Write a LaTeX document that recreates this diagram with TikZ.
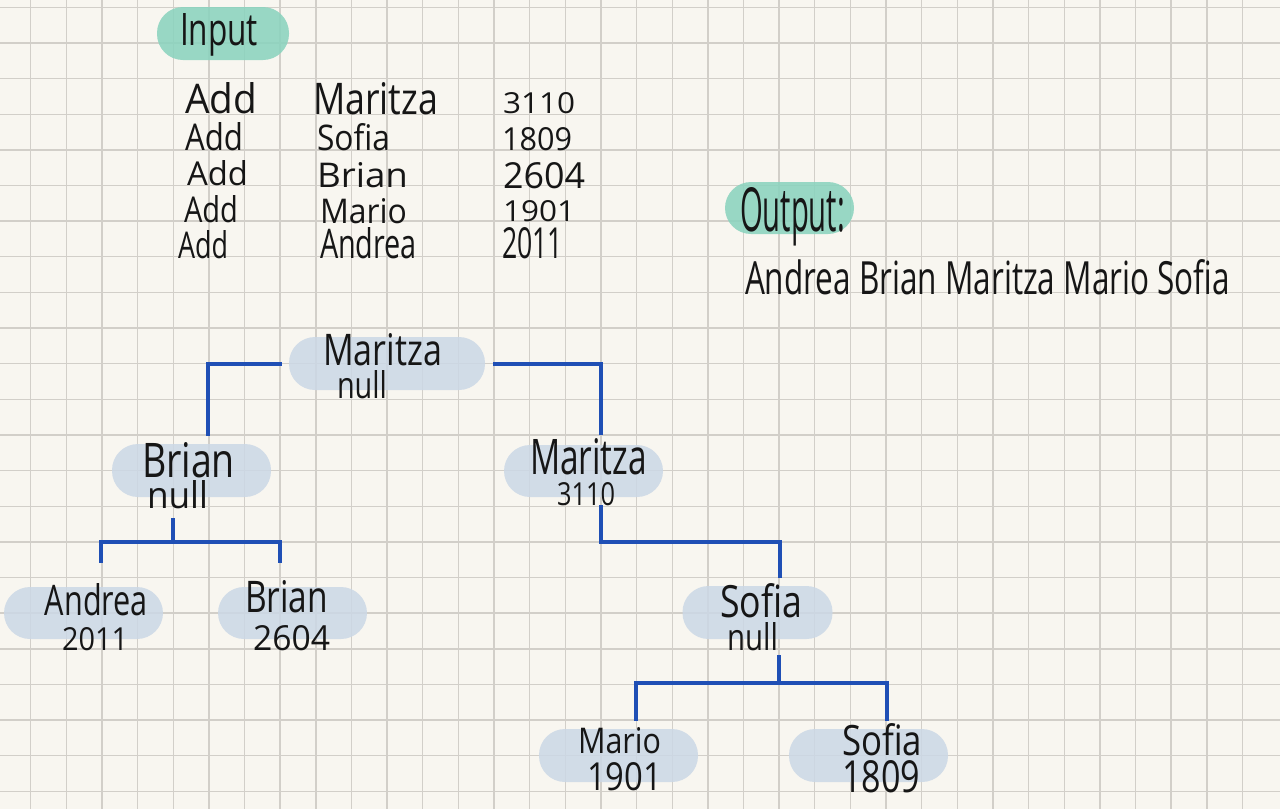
\documentclass[tikz,border=0pt]{standalone}
\usepackage{fontspec}
\setmainfont{Open Sans}
\usepackage{graphicx}
\definecolor{paper}{HTML}{F8F6F0}
\definecolor{gridc}{HTML}{D2CFC9}
\definecolor{tealpill}{HTML}{8BD3BE}
\definecolor{treepill}{HTML}{CBD8E6}
\definecolor{linkblue}{HTML}{1F4FB5}
\definecolor{ink}{HTML}{161616}
\newcommand\hwtxt[3]{\resizebox{#1pt}{#2pt}{#3}}
\tikzset{
  gridline/.style={draw=gridc, line width=1.4pt},
  tealbox/.style={rectangle, rounded corners=26pt, fill=tealpill, fill opacity=0.88, inner sep=0pt, minimum width=#1, minimum height=53pt},
  treebox/.style={rectangle, rounded corners=26pt, fill=treepill, fill opacity=0.85, inner sep=0pt, minimum width=#1, minimum height=53pt},
  hw/.style={anchor=base, inner sep=0pt, outer sep=0pt, text=ink, font=\fontsize{40}{40}\selectfont},
  conn/.style={draw=linkblue, line width=4pt},
}
\begin{document}
\begin{tikzpicture}[x=1pt, y=-1pt]
\useasboundingbox (0,0) rectangle (1280,809);
\fill[paper] (0,0) rectangle (1280,809);
% grid
\foreach \i in {0,...,34} \draw[gridline] ({30.7+\i*35.64},0) -- ({30.7+\i*35.64},809);
\foreach \j in {0,...,22} \draw[gridline] (0,{7.3+\j*35.64}) -- (1280,{7.3+\j*35.64});

% header pills
\node[tealbox=132pt] (inpill) at (223,33.5) {};
\node[tealbox=129pt, minimum height=52pt] (outpill) at (789.5,208) {};

% tree pills
\node[treebox=196pt] (root) at (387,363.5) {};
\node[treebox=159pt] (brianN) at (191.5,470.5) {};
\node[treebox=159pt, minimum height=52pt] (m3110) at (583.5,471) {};
\node[treebox=150pt] (sofiaN) at (757.5,612.5) {};
\node[treebox=159pt, minimum height=52pt] (andrea) at (83.5,613) {};
\node[treebox=149pt, minimum height=52pt] (brianL) at (292.5,613) {};
\node[treebox=159pt] (mario) at (618.5,755.5) {};
\node[treebox=159pt] (sofiaL) at (868.5,755.5) {};

% connectors
\draw[conn] ([xshift=-7pt]root.west) -| ([xshift=16.5pt,yshift=8pt]brianN.north);
\draw[conn] ([xshift=8pt]root.east) -| ([xshift=17.5pt,yshift=10pt]m3110.north);
\draw[conn] ([xshift=17.5pt,yshift=-8pt]m3110.south) -- ++(0,37) -| ([xshift=22.5pt,yshift=8pt]sofiaN.north);
\draw[conn] ([xshift=-18.5pt,yshift=-21pt]brianN.south) -- ([xshift=-18.5pt,yshift=-45pt]brianN.south);
\draw[conn] ([xshift=17.5pt,yshift=24pt]andrea.north) -- ++(0,-21) -| ([xshift=-12.5pt,yshift=24pt]brianL.north);
\draw[conn] ([xshift=21.5pt,yshift=-16pt]sofiaN.south) -- ([xshift=21.5pt,yshift=-44pt]sofiaN.south);
\draw[conn] ([xshift=17.5pt,yshift=8pt]mario.north) -- ++(0,-38) -| ([xshift=18.5pt,yshift=8pt]sofiaL.north);

% header texts
\node[hw] (inputT) at (219,45) {\hwtxt{78}{32}{Input}};
\node[hw] (outputT) at (792.5,231) {\hwtxt{105}{44}{Output:}};
\node[hw] (resultT) at (987.5,294) {\hwtxt{485}{35}{Andrea Brian Maritza Mario Sofia}};

% input table
\node[hw] (add1) at (221,113) {\hwtxt{72}{31}{Add}};
\node[hw] (add2) at (214,150) {\hwtxt{58}{28}{Add}};
\node[hw] (add3) at (217.5,185) {\hwtxt{61}{25}{Add}};
\node[hw] (add4) at (211,222) {\hwtxt{54}{27}{Add}};
\node[hw] (add5) at (203,258) {\hwtxt{50}{28}{Add}};
\node[hw] (name1) at (375.5,114) {\hwtxt{125}{32}{Maritza}};
\node[hw] (name2) at (353.5,150) {\hwtxt{73}{27}{Sofia}};
\node[hw] (name3) at (362.5,187) {\hwtxt{91}{25}{Brian}};
\node[hw] (name4) at (363.5,223) {\hwtxt{87}{25}{Mario}};
\node[hw] (name5) at (368.5,258) {\hwtxt{97}{31}{Andrea}};
\node[hw] (num1) at (539,113) {\hwtxt{72}{21}{3110}};
\node[hw] (num2) at (537,150) {\hwtxt{70}{23}{1809}};
\node[hw] (num3) at (544,188) {\hwtxt{82}{26}{2604}};
\node[hw] (num4) at (539,221) {\hwtxt{72}{21}{1901}};
\node[hw] (num5) at (532.5,258) {\hwtxt{61}{31}{2011}};

% tree texts
\node[hw] (rootA) at (382.5,365) {\hwtxt{119}{32}{Maritza}};
\node[hw] (rootB) at (362,398) {\hwtxt{50}{28}{null}};
\node[hw] (brianNA) at (188.5,477) {\hwtxt{93}{35}{Brian}};
\node[hw] (brianNB) at (177.5,508) {\hwtxt{61}{28}{null}};
\node[hw] (m3110A) at (588.5,474) {\hwtxt{117}{36}{Maritza}};
\node[hw] (m3110B) at (586,505) {\hwtxt{58}{23}{3110}};
\node[hw] (sofiaNA) at (761,617) {\hwtxt{82}{34}{Sofia}};
\node[hw] (sofiaNB) at (752.5,650) {\hwtxt{51}{28}{null}};
\node[hw] (andreaA) at (96.5,615) {\hwtxt{103}{32}{Andrea}};
\node[hw] (andreaB) at (95,650) {\hwtxt{66}{23}{2011}};
\node[hw] (brianLA) at (286.5,612) {\hwtxt{83}{32}{Brian}};
\node[hw] (brianLB) at (291.5,650) {\hwtxt{77}{25}{2604}};
\node[hw] (marioA) at (619.5,753) {\hwtxt{83}{26}{Mario}};
\node[hw] (marioB) at (624.5,790) {\hwtxt{75}{28}{1901}};
\node[hw] (sofiaLA) at (882,755) {\hwtxt{80}{32}{Sofia}};
\node[hw] (sofiaLB) at (881,792) {\hwtxt{78}{32}{1809}};
\end{tikzpicture}
\end{document}
